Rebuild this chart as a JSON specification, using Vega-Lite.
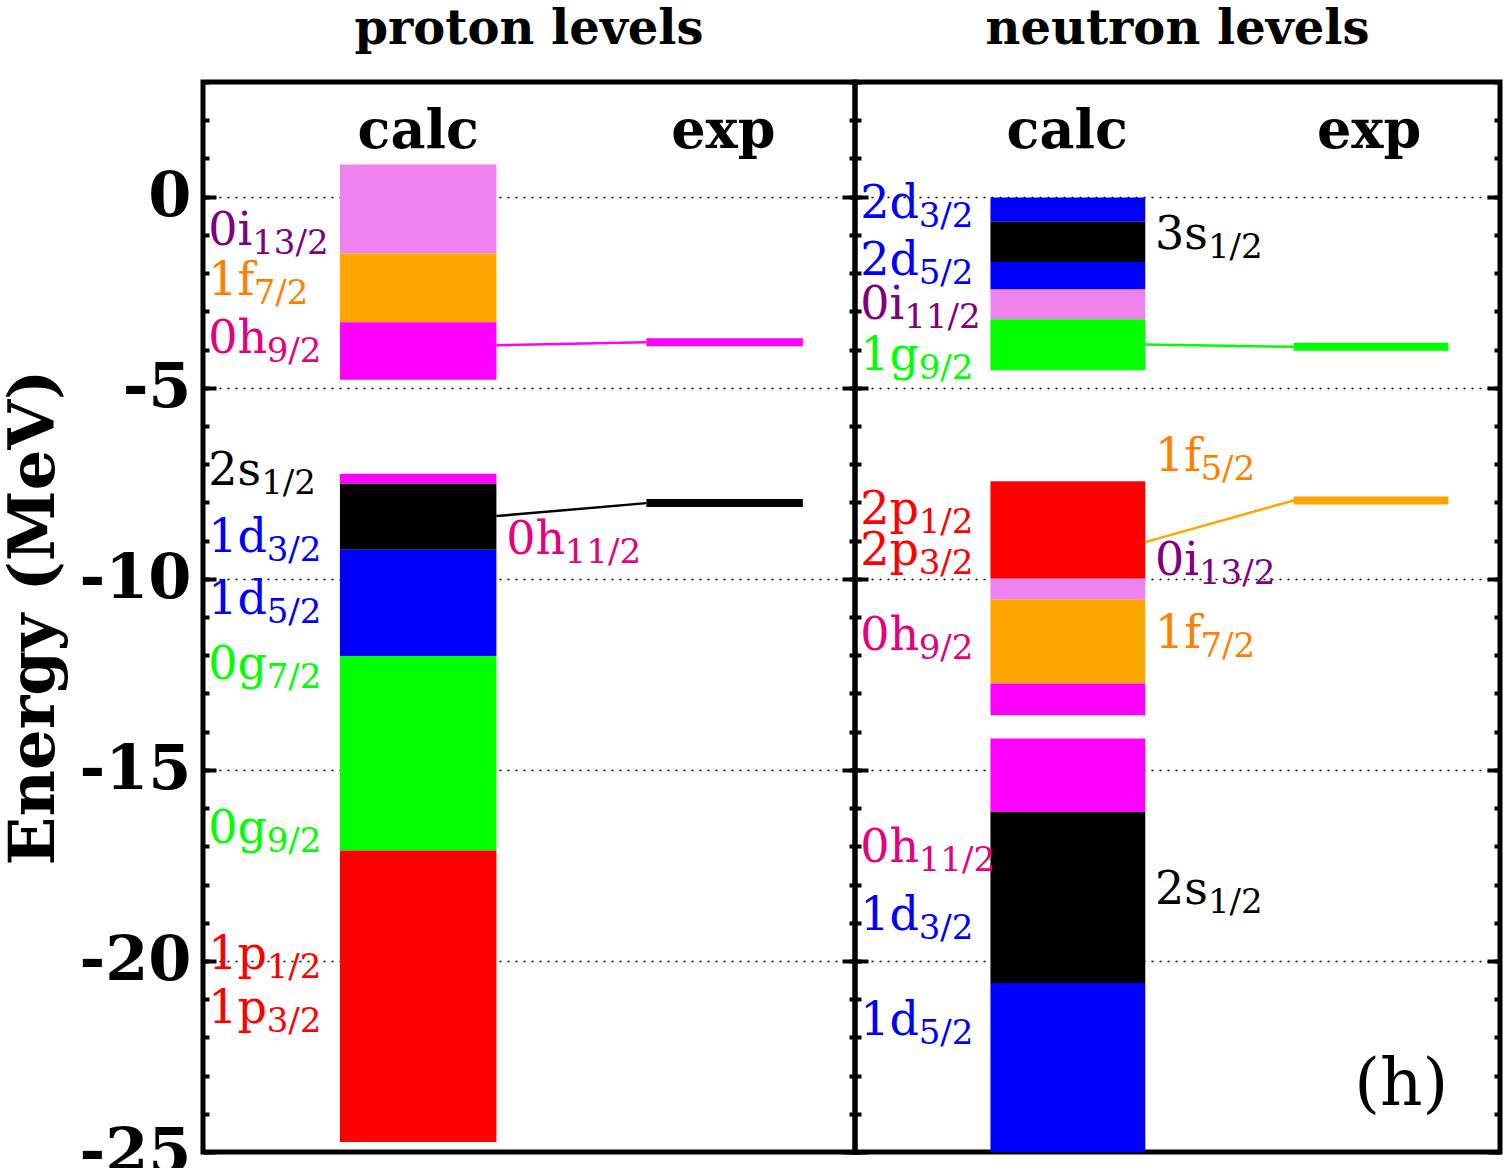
{
  "$schema": "https://vega.github.io/schema/vega-lite/v6.json",
  "background": "white",
  "padding": {"left": 0, "top": 3, "right": 2, "bottom": 0},
  "spacing": 0,
  "bounds": "flush",
  "config": {
    "view": {"stroke": "black", "strokeWidth": 5},
    "axis": {"domain": false, "tickColor": "black", "tickWidth": 4, "labelColor": "black", "titleColor": "black"},
    "title": {"font": "DejaVu Serif", "fontSize": 48, "fontWeight": "bold", "color": "black", "offset": 26, "frame": "group", "anchor": "middle"}
  },
  "datasets": {
    "bands": [
      {"p": "proton", "l": "i", "top": 0.84, "bot": -1.49},
      {"p": "proton", "l": "f", "top": -1.49, "bot": -3.29},
      {"p": "proton", "l": "h", "top": -3.29, "bot": -4.79},
      {"p": "proton", "l": "h", "top": -7.25, "bot": -7.51},
      {"p": "proton", "l": "s", "top": -7.51, "bot": -9.24},
      {"p": "proton", "l": "d", "top": -9.24, "bot": -12.02},
      {"p": "proton", "l": "g", "top": -12.02, "bot": -17.11},
      {"p": "proton", "l": "p", "top": -17.11, "bot": -24.74},
      {"p": "neutron", "l": "d", "top": -0.02, "bot": -0.66},
      {"p": "neutron", "l": "s", "top": -0.66, "bot": -1.71},
      {"p": "neutron", "l": "d", "top": -1.71, "bot": -2.43},
      {"p": "neutron", "l": "i", "top": -2.43, "bot": -3.21},
      {"p": "neutron", "l": "g", "top": -3.21, "bot": -4.54},
      {"p": "neutron", "l": "p", "top": -7.45, "bot": -10.0},
      {"p": "neutron", "l": "i", "top": -10.0, "bot": -10.54},
      {"p": "neutron", "l": "f", "top": -10.54, "bot": -12.74},
      {"p": "neutron", "l": "h", "top": -12.74, "bot": -13.57},
      {"p": "neutron", "l": "h", "top": -14.18, "bot": -16.1},
      {"p": "neutron", "l": "s", "top": -16.1, "bot": -20.58},
      {"p": "neutron", "l": "d", "top": -20.58, "bot": -25.0}
    ],
    "levels": [
      {"p": "proton", "l": "h", "calc": -3.89, "exp": -3.81},
      {"p": "proton", "l": "s", "calc": -8.36, "exp": -8.02},
      {"p": "neutron", "l": "g", "calc": -3.87, "exp": -3.93},
      {"p": "neutron", "l": "f", "calc": -9.04, "exp": -7.95}
    ],
    "labels": [
      {"p": "proton", "side": "left", "m": "0i", "s": "13/2", "l": "i", "y": -1.27},
      {"p": "proton", "side": "left", "m": "1f", "s": "7/2", "l": "f", "y": -2.58},
      {"p": "proton", "side": "left", "m": "0h", "s": "9/2", "l": "h", "y": -4.1},
      {"p": "proton", "side": "left", "m": "2s", "s": "1/2", "l": "s", "y": -7.55},
      {"p": "proton", "side": "left", "m": "1d", "s": "3/2", "l": "d", "y": -9.3},
      {"p": "proton", "side": "left", "m": "1d", "s": "5/2", "l": "d", "y": -10.91},
      {"p": "proton", "side": "left", "m": "0g", "s": "7/2", "l": "g", "y": -12.61},
      {"p": "proton", "side": "left", "m": "0g", "s": "9/2", "l": "g", "y": -16.92},
      {"p": "proton", "side": "left", "m": "1p", "s": "1/2", "l": "p", "y": -20.2},
      {"p": "proton", "side": "left", "m": "1p", "s": "3/2", "l": "p", "y": -21.63},
      {"p": "proton", "side": "right", "m": "0h", "s": "11/2", "l": "h", "y": -9.36},
      {"p": "neutron", "side": "left", "m": "2d", "s": "3/2", "l": "d", "y": -0.57},
      {"p": "neutron", "side": "left", "m": "2d", "s": "5/2", "l": "d", "y": -2.05},
      {"p": "neutron", "side": "left", "m": "0i", "s": "11/2", "l": "i", "y": -3.19},
      {"p": "neutron", "side": "left", "m": "1g", "s": "9/2", "l": "g", "y": -4.54},
      {"p": "neutron", "side": "left", "m": "2p", "s": "1/2", "l": "p", "y": -8.56},
      {"p": "neutron", "side": "left", "m": "2p", "s": "3/2", "l": "p", "y": -9.65},
      {"p": "neutron", "side": "left", "m": "0h", "s": "9/2", "l": "h", "y": -11.87},
      {"p": "neutron", "side": "left", "m": "0h", "s": "11/2", "l": "h", "y": -17.41},
      {"p": "neutron", "side": "left", "m": "1d", "s": "3/2", "l": "d", "y": -19.2},
      {"p": "neutron", "side": "left", "m": "1d", "s": "5/2", "l": "d", "y": -21.95},
      {"p": "neutron", "side": "right", "m": "3s", "s": "1/2", "l": "s", "y": -1.36},
      {"p": "neutron", "side": "right", "m": "1f", "s": "5/2", "l": "f", "y": -7.19},
      {"p": "neutron", "side": "right", "m": "0i", "s": "13/2", "l": "i", "y": -9.91},
      {"p": "neutron", "side": "right", "m": "1f", "s": "7/2", "l": "f", "y": -11.8},
      {"p": "neutron", "side": "right", "m": "2s", "s": "1/2", "l": "s", "y": -18.5}
    ]
  },
  "hconcat": [
    {
      "title": {"text": "proton levels"},
      "width": 652,
      "height": 1070,
      "resolve": {"axis": {"y": "independent"}},
      "layer": [
        {
          "data": {"name": "bands"},
          "transform": [{"filter": "datum.p == 'proton'"}],
          "mark": {"type": "rect"},
          "encoding": {
            "x": {"datum": 2.1, "type": "quantitative", "scale": {"domain": [0, 10]}, "axis": null},
            "x2": {"datum": 4.5},
            "y": {"field": "top", "type": "quantitative", "scale": {"domain": [-25, 3], "nice": false, "zero": false},
              "axis": {"orient": "left", "values": [-25, -20, -15, -10, -5, 0], "labelExpr": "'' + datum.value", "tickSize": -13, "labelFont": "DejaVu Serif", "labelFontSize": 62, "labelFontWeight": "bold", "labelPadding": 25, "grid": true, "gridColor": "black", "gridDash": [2, 6], "gridWidth": 1.5, "gridOpacity": 1, "title": "Energy (MeV)", "titleFont": "DejaVu Serif", "titleFontSize": 64, "titleFontWeight": "bold", "titlePadding": 12}},
            "y2": {"field": "bot"},
            "fill": {"field": "l", "type": "nominal", "scale": {"domain": ["i", "f", "h", "s", "d", "g", "p"], "range": ["#ee82ee", "#ffa500", "#ff00ff", "#000000", "#0000ff", "#00ff00", "#ff0000"]}, "legend": null}
          }
        },
        {
          "data": {"name": "levels"},
          "transform": [{"filter": "datum.p == 'proton'"}],
          "mark": {"type": "rule", "strokeWidth": 2.5},
          "encoding": {
            "x": {"datum": 4.5, "type": "quantitative", "scale": {"domain": [0, 10]}, "axis": null},
            "x2": {"datum": 6.8},
            "y": {"field": "calc", "type": "quantitative", "scale": {"domain": [-25, 3], "nice": false, "zero": false},
              "axis": {"orient": "left", "values": [-25, -24, -23, -22, -21, -20, -19, -18, -17, -16, -15, -14, -13, -12, -11, -10, -9, -8, -7, -6, -5, -4, -3, -2, -1, 0, 1, 2, 3], "tickSize": -6, "labels": false, "grid": false, "title": null}},
            "y2": {"field": "exp"},
            "stroke": {"field": "l", "type": "nominal", "scale": {"domain": ["i", "f", "h", "s", "d", "g", "p"], "range": ["#ee82ee", "#ffa500", "#ff00ff", "#000000", "#0000ff", "#00ff00", "#ff0000"]}, "legend": null}
          }
        },
        {
          "data": {"name": "levels"},
          "transform": [{"filter": "datum.p == 'proton'"}],
          "mark": {"type": "rule", "strokeWidth": 8, "strokeCap": "butt"},
          "encoding": {
            "x": {"datum": 6.8, "type": "quantitative", "scale": {"domain": [0, 10]}, "axis": null},
            "x2": {"datum": 9.2},
            "y": {"field": "exp", "type": "quantitative", "scale": {"domain": [-25, 3], "nice": false, "zero": false},
              "axis": {"orient": "right", "values": [-25, -20, -15, -10, -5, 0], "tickSize": -13, "labels": false, "grid": false, "title": null}},
            "stroke": {"field": "l", "type": "nominal", "scale": {"domain": ["i", "f", "h", "s", "d", "g", "p"], "range": ["#ee82ee", "#ffa500", "#ff00ff", "#000000", "#0000ff", "#00ff00", "#ff0000"]}, "legend": null}
          }
        },
        {
          "data": {"name": "labels"},
          "transform": [{"filter": "datum.p == 'proton' && datum.side == 'left'"}],
          "mark": {"type": "text", "font": "DejaVu Serif", "fontSize": 46, "align": "left", "baseline": "alphabetic"},
          "encoding": {
            "x": {"datum": 0.08, "type": "quantitative", "scale": {"domain": [0, 10]}, "axis": null},
            "y": {"field": "y", "type": "quantitative", "scale": {"domain": [-25, 3], "nice": false, "zero": false},
              "axis": {"orient": "right", "values": [-25, -24, -23, -22, -21, -20, -19, -18, -17, -16, -15, -14, -13, -12, -11, -10, -9, -8, -7, -6, -5, -4, -3, -2, -1, 0, 1, 2, 3], "tickSize": -6, "labels": false, "grid": false, "title": null}},
            "text": {"field": "m"},
            "color": {"field": "l", "type": "nominal", "scale": {"domain": ["i", "f", "h", "s", "d", "g", "p"], "range": ["#800080", "#ff7f00", "#e5007e", "#000000", "#0000ff", "#00ff00", "#ff0000"]}, "legend": null}
          }
        },
        {
          "data": {"name": "labels"},
          "transform": [{"filter": "datum.p == 'proton' && datum.side == 'left'"}],
          "mark": {"type": "text", "font": "DejaVu Serif", "fontSize": 34, "align": "left", "baseline": "alphabetic", "dy": 9, "dx": {"expr": "datum.l == 'i' ? 44 : (datum.l == 'f' ? 45.5 : (datum.l == 's' ? 53 : 58.5))"}},
          "encoding": {
            "x": {"datum": 0.08, "type": "quantitative", "scale": {"domain": [0, 10]}, "axis": null},
            "y": {"field": "y", "type": "quantitative", "scale": {"domain": [-25, 3], "nice": false, "zero": false}, "axis": null},
            "text": {"field": "s"},
            "color": {"field": "l", "type": "nominal", "scale": {"domain": ["i", "f", "h", "s", "d", "g", "p"], "range": ["#800080", "#ff7f00", "#e5007e", "#000000", "#0000ff", "#00ff00", "#ff0000"]}, "legend": null}
          }
        },
        {
          "data": {"name": "labels"},
          "transform": [{"filter": "datum.p == 'proton' && datum.side == 'right'"}],
          "mark": {"type": "text", "font": "DejaVu Serif", "fontSize": 46, "align": "left", "baseline": "alphabetic"},
          "encoding": {
            "x": {"datum": 4.65, "type": "quantitative", "scale": {"domain": [0, 10]}, "axis": null},
            "y": {"field": "y", "type": "quantitative", "scale": {"domain": [-25, 3], "nice": false, "zero": false}, "axis": null},
            "text": {"field": "m"},
            "color": {"field": "l", "type": "nominal", "scale": {"domain": ["i", "f", "h", "s", "d", "g", "p"], "range": ["#800080", "#ff7f00", "#e5007e", "#000000", "#0000ff", "#00ff00", "#ff0000"]}, "legend": null}
          }
        },
        {
          "data": {"name": "labels"},
          "transform": [{"filter": "datum.p == 'proton' && datum.side == 'right'"}],
          "mark": {"type": "text", "font": "DejaVu Serif", "fontSize": 34, "align": "left", "baseline": "alphabetic", "dy": 9, "dx": {"expr": "datum.l == 'i' ? 44 : (datum.l == 'f' ? 45.5 : (datum.l == 's' ? 53 : 58.5))"}},
          "encoding": {
            "x": {"datum": 4.65, "type": "quantitative", "scale": {"domain": [0, 10]}, "axis": null},
            "y": {"field": "y", "type": "quantitative", "scale": {"domain": [-25, 3], "nice": false, "zero": false}, "axis": null},
            "text": {"field": "s"},
            "color": {"field": "l", "type": "nominal", "scale": {"domain": ["i", "f", "h", "s", "d", "g", "p"], "range": ["#800080", "#ff7f00", "#e5007e", "#000000", "#0000ff", "#00ff00", "#ff0000"]}, "legend": null}
          }
        },
        {
          "data": {"values": [{}]},
          "mark": {"type": "text", "text": "calc", "font": "DejaVu Serif", "fontSize": 54, "fontWeight": "bold", "align": "center", "baseline": "alphabetic", "color": "black"},
          "encoding": {
            "x": {"datum": 3.3, "type": "quantitative", "scale": {"domain": [0, 10]}, "axis": null},
            "y": {"datum": 1.27, "type": "quantitative", "scale": {"domain": [-25, 3], "nice": false, "zero": false}, "axis": null}
          }
        },
        {
          "data": {"values": [{}]},
          "mark": {"type": "text", "text": "exp", "font": "DejaVu Serif", "fontSize": 54, "fontWeight": "bold", "align": "center", "baseline": "alphabetic", "color": "black"},
          "encoding": {
            "x": {"datum": 7.98, "type": "quantitative", "scale": {"domain": [0, 10]}, "axis": null},
            "y": {"datum": 1.27, "type": "quantitative", "scale": {"domain": [-25, 3], "nice": false, "zero": false}, "axis": null}
          }
        }
      ]
    },
    {
      "title": {"text": "neutron levels"},
      "width": 645,
      "height": 1070,
      "resolve": {"axis": {"y": "independent"}},
      "layer": [
        {
          "data": {"name": "bands"},
          "transform": [{"filter": "datum.p == 'neutron'"}],
          "mark": {"type": "rect"},
          "encoding": {
            "x": {"datum": 2.1, "type": "quantitative", "scale": {"domain": [0, 10]}, "axis": null},
            "x2": {"datum": 4.5},
            "y": {"field": "top", "type": "quantitative", "scale": {"domain": [-25, 3], "nice": false, "zero": false},
              "axis": {"orient": "left", "values": [-25, -20, -15, -10, -5, 0], "tickSize": -13, "labels": false, "grid": true, "gridColor": "black", "gridDash": [2, 6], "gridWidth": 1.5, "gridOpacity": 1, "title": null}},
            "y2": {"field": "bot"},
            "fill": {"field": "l", "type": "nominal", "scale": {"domain": ["i", "f", "h", "s", "d", "g", "p"], "range": ["#ee82ee", "#ffa500", "#ff00ff", "#000000", "#0000ff", "#00ff00", "#ff0000"]}, "legend": null}
          }
        },
        {
          "data": {"name": "levels"},
          "transform": [{"filter": "datum.p == 'neutron'"}],
          "mark": {"type": "rule", "strokeWidth": 2.5},
          "encoding": {
            "x": {"datum": 4.5, "type": "quantitative", "scale": {"domain": [0, 10]}, "axis": null},
            "x2": {"datum": 6.8},
            "y": {"field": "calc", "type": "quantitative", "scale": {"domain": [-25, 3], "nice": false, "zero": false},
              "axis": {"orient": "left", "values": [-25, -24, -23, -22, -21, -20, -19, -18, -17, -16, -15, -14, -13, -12, -11, -10, -9, -8, -7, -6, -5, -4, -3, -2, -1, 0, 1, 2, 3], "tickSize": -6, "labels": false, "grid": false, "title": null}},
            "y2": {"field": "exp"},
            "stroke": {"field": "l", "type": "nominal", "scale": {"domain": ["i", "f", "h", "s", "d", "g", "p"], "range": ["#ee82ee", "#ffa500", "#ff00ff", "#000000", "#0000ff", "#00ff00", "#ff0000"]}, "legend": null}
          }
        },
        {
          "data": {"name": "levels"},
          "transform": [{"filter": "datum.p == 'neutron'"}],
          "mark": {"type": "rule", "strokeWidth": 8, "strokeCap": "butt"},
          "encoding": {
            "x": {"datum": 6.8, "type": "quantitative", "scale": {"domain": [0, 10]}, "axis": null},
            "x2": {"datum": 9.2},
            "y": {"field": "exp", "type": "quantitative", "scale": {"domain": [-25, 3], "nice": false, "zero": false},
              "axis": {"orient": "right", "values": [-25, -20, -15, -10, -5, 0], "tickSize": -13, "labels": false, "grid": false, "title": null}},
            "stroke": {"field": "l", "type": "nominal", "scale": {"domain": ["i", "f", "h", "s", "d", "g", "p"], "range": ["#ee82ee", "#ffa500", "#ff00ff", "#000000", "#0000ff", "#00ff00", "#ff0000"]}, "legend": null}
          }
        },
        {
          "data": {"name": "labels"},
          "transform": [{"filter": "datum.p == 'neutron' && datum.side == 'left'"}],
          "mark": {"type": "text", "font": "DejaVu Serif", "fontSize": 46, "align": "left", "baseline": "alphabetic"},
          "encoding": {
            "x": {"datum": 0.08, "type": "quantitative", "scale": {"domain": [0, 10]}, "axis": null},
            "y": {"field": "y", "type": "quantitative", "scale": {"domain": [-25, 3], "nice": false, "zero": false},
              "axis": {"orient": "right", "values": [-25, -24, -23, -22, -21, -20, -19, -18, -17, -16, -15, -14, -13, -12, -11, -10, -9, -8, -7, -6, -5, -4, -3, -2, -1, 0, 1, 2, 3], "tickSize": -6, "labels": false, "grid": false, "title": null}},
            "text": {"field": "m"},
            "color": {"field": "l", "type": "nominal", "scale": {"domain": ["i", "f", "h", "s", "d", "g", "p"], "range": ["#800080", "#ff7f00", "#e5007e", "#000000", "#0000ff", "#00ff00", "#ff0000"]}, "legend": null}
          }
        },
        {
          "data": {"name": "labels"},
          "transform": [{"filter": "datum.p == 'neutron' && datum.side == 'left'"}],
          "mark": {"type": "text", "font": "DejaVu Serif", "fontSize": 34, "align": "left", "baseline": "alphabetic", "dy": 9, "dx": {"expr": "datum.l == 'i' ? 44 : (datum.l == 'f' ? 45.5 : (datum.l == 's' ? 53 : 58.5))"}},
          "encoding": {
            "x": {"datum": 0.08, "type": "quantitative", "scale": {"domain": [0, 10]}, "axis": null},
            "y": {"field": "y", "type": "quantitative", "scale": {"domain": [-25, 3], "nice": false, "zero": false}, "axis": null},
            "text": {"field": "s"},
            "color": {"field": "l", "type": "nominal", "scale": {"domain": ["i", "f", "h", "s", "d", "g", "p"], "range": ["#800080", "#ff7f00", "#e5007e", "#000000", "#0000ff", "#00ff00", "#ff0000"]}, "legend": null}
          }
        },
        {
          "data": {"name": "labels"},
          "transform": [{"filter": "datum.p == 'neutron' && datum.side == 'right'"}],
          "mark": {"type": "text", "font": "DejaVu Serif", "fontSize": 46, "align": "left", "baseline": "alphabetic"},
          "encoding": {
            "x": {"datum": 4.65, "type": "quantitative", "scale": {"domain": [0, 10]}, "axis": null},
            "y": {"field": "y", "type": "quantitative", "scale": {"domain": [-25, 3], "nice": false, "zero": false}, "axis": null},
            "text": {"field": "m"},
            "color": {"field": "l", "type": "nominal", "scale": {"domain": ["i", "f", "h", "s", "d", "g", "p"], "range": ["#800080", "#ff7f00", "#e5007e", "#000000", "#0000ff", "#00ff00", "#ff0000"]}, "legend": null}
          }
        },
        {
          "data": {"name": "labels"},
          "transform": [{"filter": "datum.p == 'neutron' && datum.side == 'right'"}],
          "mark": {"type": "text", "font": "DejaVu Serif", "fontSize": 34, "align": "left", "baseline": "alphabetic", "dy": 9, "dx": {"expr": "datum.l == 'i' ? 44 : (datum.l == 'f' ? 45.5 : (datum.l == 's' ? 53 : 58.5))"}},
          "encoding": {
            "x": {"datum": 4.65, "type": "quantitative", "scale": {"domain": [0, 10]}, "axis": null},
            "y": {"field": "y", "type": "quantitative", "scale": {"domain": [-25, 3], "nice": false, "zero": false}, "axis": null},
            "text": {"field": "s"},
            "color": {"field": "l", "type": "nominal", "scale": {"domain": ["i", "f", "h", "s", "d", "g", "p"], "range": ["#800080", "#ff7f00", "#e5007e", "#000000", "#0000ff", "#00ff00", "#ff0000"]}, "legend": null}
          }
        },
        {
          "data": {"values": [{}]},
          "mark": {"type": "text", "text": "calc", "font": "DejaVu Serif", "fontSize": 54, "fontWeight": "bold", "align": "center", "baseline": "alphabetic", "color": "black"},
          "encoding": {
            "x": {"datum": 3.29, "type": "quantitative", "scale": {"domain": [0, 10]}, "axis": null},
            "y": {"datum": 1.27, "type": "quantitative", "scale": {"domain": [-25, 3], "nice": false, "zero": false}, "axis": null}
          }
        },
        {
          "data": {"values": [{}]},
          "mark": {"type": "text", "text": "exp", "font": "DejaVu Serif", "fontSize": 54, "fontWeight": "bold", "align": "center", "baseline": "alphabetic", "color": "black"},
          "encoding": {
            "x": {"datum": 7.97, "type": "quantitative", "scale": {"domain": [0, 10]}, "axis": null},
            "y": {"datum": 1.27, "type": "quantitative", "scale": {"domain": [-25, 3], "nice": false, "zero": false}, "axis": null}
          }
        },
        {
          "data": {"values": [{}]},
          "mark": {"type": "text", "text": "(h)", "font": "DejaVu Serif", "fontSize": 66, "align": "center", "baseline": "alphabetic", "color": "black"},
          "encoding": {
            "x": {"datum": 8.47, "type": "quantitative", "scale": {"domain": [0, 10]}, "axis": null},
            "y": {"datum": -23.78, "type": "quantitative", "scale": {"domain": [-25, 3], "nice": false, "zero": false}, "axis": null}
          }
        }
      ]
    }
  ]
}
